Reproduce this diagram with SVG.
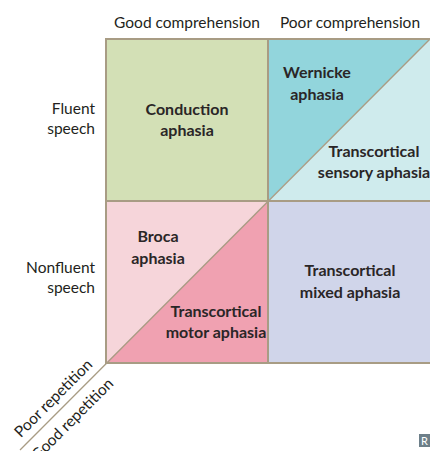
<svg xmlns="http://www.w3.org/2000/svg" width="430" height="451" viewBox="0 0 430 451">
<style>
text{font-family:Lato,"Open Sans","Liberation Sans",sans-serif;fill:#231f20}
.ax{font-size:15.5px}
.lb{font-size:16px;font-weight:bold;fill:#2a2627}
.bd{fill:none;stroke:#a89c84;stroke-width:2}
.dg{stroke:#a89c84;stroke-width:1.3;fill:none}
</style>
<rect width="430" height="451" fill="#ffffff"/>
<g id="headers">
<text class="ax" x="187" y="28" text-anchor="middle">Good comprehension</text>
<text class="ax" x="350" y="28" text-anchor="middle">Poor comprehension</text>
<text class="ax" x="95" y="114" text-anchor="end">Fluent</text>
<text class="ax" x="95" y="134" text-anchor="end">speech</text>
<text class="ax" x="95" y="273" text-anchor="end">Nonfluent</text>
<text class="ax" x="95" y="293" text-anchor="end">speech</text>
</g>
<g id="conduction">
<rect x="106" y="39" width="162" height="162" fill="#d3e0b6"/>
<text class="lb" x="187" y="115" text-anchor="middle">Conduction</text>
<text class="lb" x="187" y="136" text-anchor="middle">aphasia</text>
</g>
<g id="wernicke">
<polygon points="268,39 430,39 268,201" fill="#92d5dc"/>
<text class="lb" x="317" y="78" text-anchor="middle">Wernicke</text>
<text class="lb" x="317" y="100" text-anchor="middle">aphasia</text>
</g>
<g id="transcortical-sensory">
<polygon points="430,39 430,201 268,201" fill="#cfebed"/>
<text class="lb" x="374" y="157" text-anchor="middle">Transcortical</text>
<text class="lb" x="374" y="178" text-anchor="middle">sensory aphasia</text>
</g>
<g id="broca">
<polygon points="106,201 268,201 106,363" fill="#f6d5da"/>
<text class="lb" x="158" y="242" text-anchor="middle">Broca</text>
<text class="lb" x="158" y="264" text-anchor="middle">aphasia</text>
</g>
<g id="transcortical-motor">
<polygon points="268,201 268,363 106,363" fill="#f0a1b1"/>
<text class="lb" x="216" y="317" text-anchor="middle">Transcortical</text>
<text class="lb" x="216" y="338" text-anchor="middle">motor aphasia</text>
</g>
<g id="transcortical-mixed">
<rect x="268" y="201" width="162" height="162" fill="#d0d5ea"/>
<text class="lb" x="350" y="276" text-anchor="middle">Transcortical</text>
<text class="lb" x="350" y="298" text-anchor="middle">mixed aphasia</text>
</g>
<g id="connectors">
<line class="dg" x1="20" y1="450" x2="430" y2="39"/>
<path class="bd" d="M432,39 H106 V363 H432"/>
<line class="bd" x1="268" y1="39" x2="268" y2="363"/>
<line class="bd" x1="106" y1="201" x2="432" y2="201"/>
</g>
<g id="repetition">
<text class="ax" x="0" y="0" text-anchor="middle" transform="translate(57,402) rotate(-45)">Poor repetition</text>
<text class="ax" x="0" y="0" text-anchor="middle" transform="translate(76,423) rotate(-45)">Good repetition</text>
</g>
<g id="logo">
<rect x="419" y="434" width="11" height="13" fill="#6d7f89"/>
<text x="421" y="445" font-size="11" style="fill:#ffffff">R</text>
</g>
</svg>
